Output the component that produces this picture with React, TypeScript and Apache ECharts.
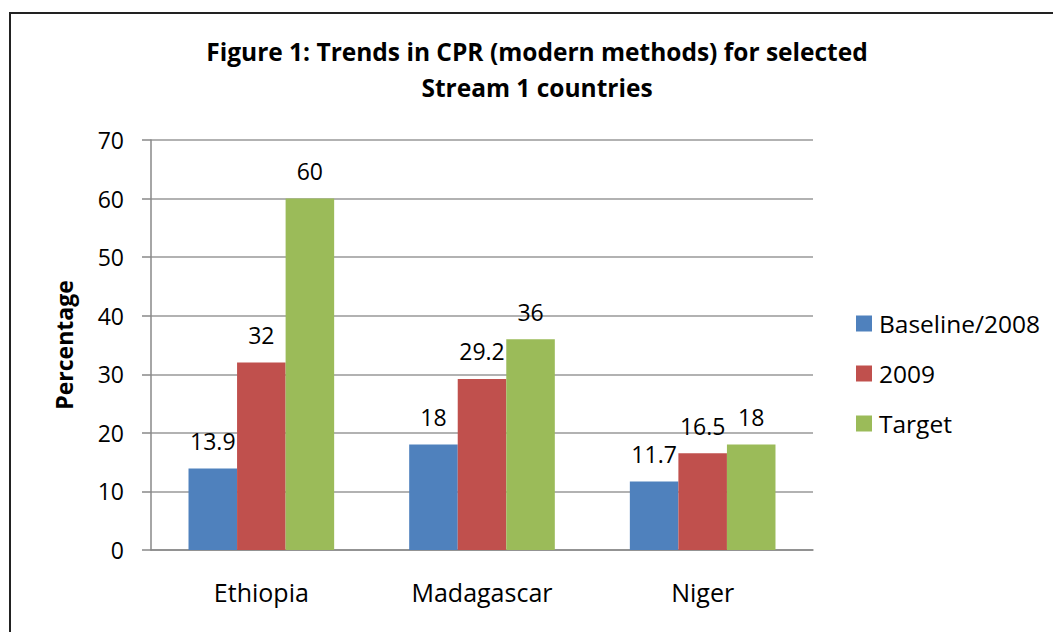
import React, { useEffect, useRef } from "react";
import * as echarts from "echarts";

const categories = ["Ethiopia", "Madagascar", "Niger"];
const seriesNames = ["Baseline/2008", "2009", "Target"];
const baseline2008 = [13.9, 18, 11.7];
const y2009 = [32, 29.2, 16.5];
const target = [60, 36, 18];
const colors = ["#4F81BD", "#C0504D", "#9BBB59"];
const titleText = "Figure 1: Trends in CPR (modern methods) for selected\nStream 1 countries";
const yAxisName = "Percentage";

const FONT = "'Open Sans', 'Noto Sans', sans-serif";

export default function App() {
  const ref = useRef<HTMLDivElement>(null);
  useEffect(() => {
    if (!ref.current) return;
    const chart = echarts.init(ref.current, null, { renderer: "svg" });
    const values = [baseline2008, y2009, target];
    chart.setOption({
      animation: false,
      backgroundColor: "#fff",
      textStyle: { fontFamily: FONT },
      title: {
        text: titleText,
        left: 537,
        textAlign: "center",
        top: 33,
        padding: 0,
        textStyle: {
          fontFamily: FONT,
          fontSize: 24.5,
          fontWeight: "bold",
          color: "#000",
          lineHeight: 36,
        },
      },
      graphic: [
        {
          type: "rect",
          shape: { x: 10, y: 13, width: 1100, height: 700 },
          style: { fill: "none", stroke: "#222", lineWidth: 2 },
          silent: true,
        },
      ],
      legend: {
        orient: "vertical",
        left: 856,
        top: 311,
        padding: 0,
        itemWidth: 16,
        itemHeight: 16,
        itemGap: 25,
        icon: "rect",
        data: seriesNames,
        textStyle: { fontFamily: FONT, fontSize: 24.5, color: "#000", lineHeight: 25, padding: [0, 0, 0, 2] },
      },
      grid: { left: 151, right: 240, top: 140, bottom: 82, containLabel: false },
      xAxis: {
        type: "category",
        data: categories,
        axisLine: { show: true, lineStyle: { color: "#888", width: 1.5 } },
        axisTick: { show: false },
        axisLabel: { margin: 29, fontFamily: FONT, fontSize: 25, color: "#000" },
      },
      yAxis: {
        type: "value",
        min: 0,
        max: 70,
        interval: 10,
        name: yAxisName,
        nameLocation: "middle",
        nameGap: 76,
        nameTextStyle: { fontFamily: FONT, fontSize: 23, fontWeight: "bold", color: "#000" },
        axisLine: { show: true, lineStyle: { color: "#888", width: 1.5 } },
        axisTick: { show: true, length: 9, lineStyle: { color: "#888", width: 1.5 } },
        axisLabel: { margin: 27, fontFamily: FONT, fontSize: 23, color: "#000" },
        splitLine: { show: true, lineStyle: { color: "#999", width: 1.5 } },
      },
      series: seriesNames.map((name, i) => ({
        name,
        type: "bar",
        data: values[i],
        barGap: "0%",
        barCategoryGap: "34%",
        itemStyle: { color: colors[i] },
        label: {
          show: true,
          position: "top",
          distance: 16,
          fontFamily: FONT,
          fontSize: 23,
          color: "#000",
        },
      })),
    });
    return () => chart.dispose();
  }, []);
  return (
    <div
      ref={ref}
      style={{ position: "absolute", left: 0, top: 0, width: 1053, height: 632 }}
    />
  );
}
